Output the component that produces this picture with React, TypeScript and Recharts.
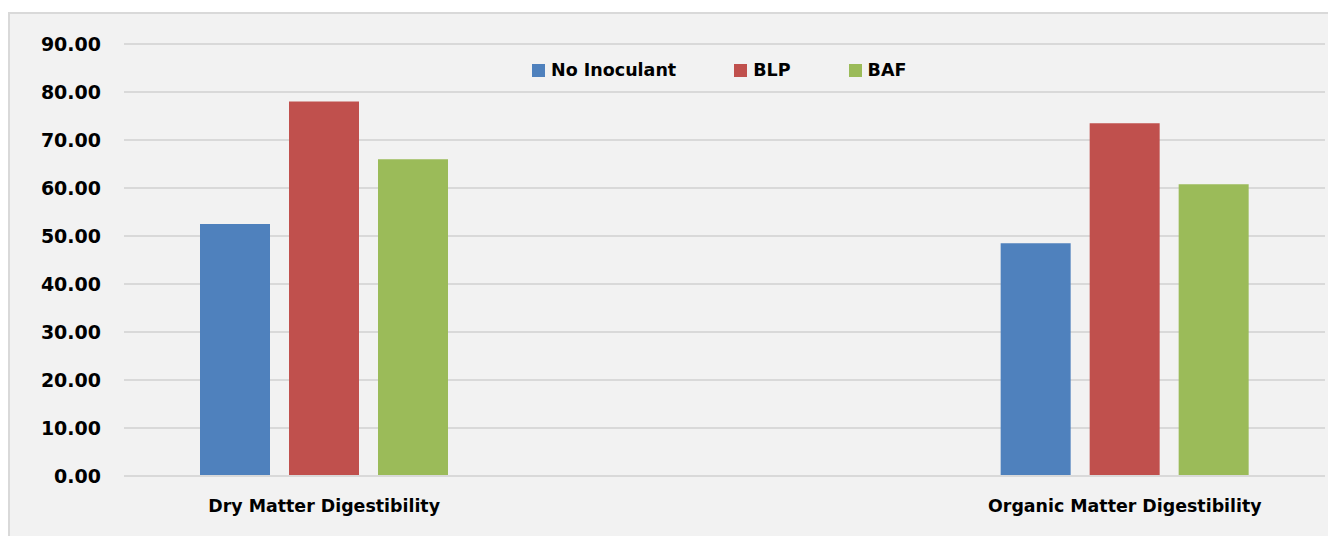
import {
  Bar,
  BarChart,
  CartesianGrid,
  Legend,
  XAxis,
  YAxis,
} from "recharts";

// middle category is left empty on purpose (the original chart has a blank slot)
const categories = ["Dry Matter Digestibility", "", "Organic Matter Digestibility"];
const noInoculant = [52.5, null, 48.5];
const blp = [78.0, null, 73.5];
const baf = [66.0, null, 60.8];
const yTicks = [0, 10, 20, 30, 40, 50, 60, 70, 80, 90];

const seriesInfo = [
  { key: "noInoculant", name: "No Inoculant", color: "#4f81bd" },
  { key: "blp", name: "BLP", color: "#c0504d" },
  { key: "baf", name: "BAF", color: "#9bbb59" },
];

const FONT = "'DejaVu Sans', Arial, sans-serif";

const CustomLegend = () => (
  <div style={{ display: "flex", alignItems: "center", fontFamily: FONT }}>
    {seriesInfo.map((s) => (
      <div
        key={s.key}
        style={{ display: "flex", alignItems: "center", marginRight: 58 }}
      >
        <span
          style={{
            width: 13,
            height: 13,
            background: s.color,
            display: "inline-block",
            marginRight: 6,
          }}
        />
        <span style={{ fontSize: 17.5, fontWeight: "bold", color: "#000" }}>
          {s.name}
        </span>
      </div>
    ))}
  </div>
);

const App = () => {
  const data = categories.map((name, i) => ({
    name,
    noInoculant: noInoculant[i],
    blp: blp[i],
    baf: baf[i],
  }));

  return (
    <div
      style={{
        position: "absolute",
        left: 0,
        top: 0,
        width: 1328,
        height: 536,
        overflow: "hidden",
        background: "#fff",
      }}
    >
      <div
        style={{
          position: "absolute",
          left: 8,
          top: 12,
          width: 1340,
          height: 540,
          boxSizing: "border-box",
          border: "2px solid #d9d9d9",
          background: "#f2f2f2",
        }}
      >
        <BarChart
          width={1318}
          height={522}
          data={data}
          margin={{ top: 30, right: 3, left: 0, bottom: 20 }}
          barSize={70}
          barGap={19}
        >
          <CartesianGrid
            vertical={false}
            stroke="#d9d9d9"
            strokeWidth={2}
          />
          <XAxis
            dataKey="name"
            height={40}
            tickLine={false}
            tickSize={0}
            tickMargin={24}
            axisLine={{ stroke: "#d9d9d9", strokeWidth: 2 }}
            interval={0}
            tick={{
              fontFamily: FONT,
              fontSize: 17.4,
              fontWeight: "bold",
              fill: "#000",
            }}
          />
          <YAxis
            width={114}
            domain={[0, 90]}
            ticks={yTicks}
            axisLine={false}
            tickLine={false}
            tickSize={0}
            tickMargin={23}
            tickFormatter={(v: number) => v.toFixed(2)}
            tick={{
              fontFamily: FONT,
              fontSize: 19,
              fontWeight: "bold",
              fill: "#000",
            }}
          />
          <Legend
            layout="horizontal"
            verticalAlign="middle"
            align="center"
            content={<CustomLegend />}
            wrapperStyle={{ top: 46, left: 522, width: "auto" }}
          />
          {seriesInfo.map((s) => (
            <Bar
              key={s.key}
              dataKey={s.key}
              name={s.name}
              fill={s.color}
              isAnimationActive={false}
            />
          ))}
        </BarChart>
      </div>
    </div>
  );
};

export default App;
